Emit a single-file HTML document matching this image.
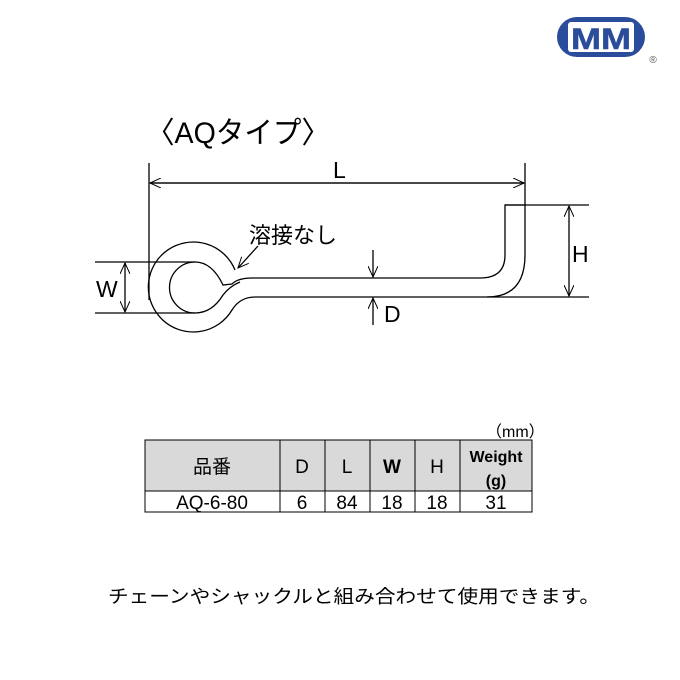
<!DOCTYPE html>
<html><head><meta charset="utf-8"><style>
body{margin:0;background:#fff;width:680px;height:680px;overflow:hidden;font-family:"Liberation Sans","Noto Sans CJK JP",sans-serif}
</style></head><body>
<svg width="680" height="680" viewBox="0 0 680 680" xmlns="http://www.w3.org/2000/svg" style="position:absolute;left:0;top:0">
<defs><marker id="a" markerWidth="12" markerHeight="10" refX="11" refY="5" orient="auto" markerUnits="userSpaceOnUse"><path d="M0,0 L11,5 L0,10" fill="none" stroke="#000" stroke-width="1"/></marker></defs>
<!-- logo -->
<rect x="557" y="17" width="88" height="40" rx="20" fill="#2b4c9b"/>
<rect x="568" y="22" width="66" height="30" rx="3" fill="#fff"/>
<text x="601" y="49" font-size="30" font-weight="bold" fill="#2b4c9b" text-anchor="middle" stroke="#2b4c9b" stroke-width="0.5" textLength="60" lengthAdjust="spacingAndGlyphs">MM</text>
<text x="653" y="63" font-size="10" fill="#555" text-anchor="middle">®</text>
<!-- title -->
<text x="146" y="143" font-size="30" textLength="184" lengthAdjust="spacingAndGlyphs">〈AQタイプ〉</text>
<g stroke="#000" stroke-width="1.3" fill="none">
<line x1="149" y1="163" x2="149" y2="300"/>
<line x1="525" y1="163" x2="525" y2="205"/>
<line x1="150" y1="183" x2="524" y2="183" marker-end="url(#a)"/>
<line x1="524" y1="183" x2="150" y2="183" marker-end="url(#a)"/>
<line x1="505" y1="205" x2="589" y2="205"/>
<line x1="487" y1="297" x2="589" y2="297"/>
<line x1="569" y1="250" x2="569" y2="206" marker-end="url(#a)"/>
<line x1="569" y1="250" x2="569" y2="296" marker-end="url(#a)"/>
<line x1="95" y1="262" x2="195" y2="262"/>
<line x1="95" y1="313" x2="195" y2="313"/>
<line x1="125" y1="288" x2="125" y2="263" marker-end="url(#a)"/>
<line x1="125" y1="288" x2="125" y2="312" marker-end="url(#a)"/>
<line x1="373" y1="250" x2="373" y2="277" marker-end="url(#a)"/>
<line x1="373" y1="325" x2="373" y2="298" marker-end="url(#a)"/>
<path d="M235,270 A45,45 0 1 0 232,310 Q240,297 255,297 L487,297 Q525,297 525,255 L525,205 L505,205 L505,255 Q505,278 480,278 L252,278 Q238,278 232,284 L223,285 Q212,262 195,262 A25.5,25.5 0 0 0 195,313 Q212,313 223,295 Q230,286 240,282"/>
<line x1="258" y1="246" x2="238" y2="268" marker-end="url(#a)"/>
</g>
<text x="249" y="243" font-size="22">溶接なし</text>
<text x="572" y="262" font-size="23">H</text>
<text x="96" y="297" font-size="23">W</text>
<text x="384" y="322" font-size="23">D</text>
<text x="333" y="178" font-size="23">L</text>
<!-- table -->
<text x="486" y="437" font-size="16">（mm）</text>
<rect x="145" y="440" width="387" height="51" fill="#d9d9d9"/>
<g stroke="#000" stroke-width="1" fill="none">
<rect x="145" y="440" width="387" height="72"/>
<line x1="145" y1="491" x2="532" y2="491"/>
<line x1="280" y1="440" x2="280" y2="512"/>
<line x1="325" y1="440" x2="325" y2="512"/>
<line x1="370" y1="440" x2="370" y2="512"/>
<line x1="415" y1="440" x2="415" y2="512"/>
<line x1="460" y1="440" x2="460" y2="512"/>
</g>
<g font-size="19" text-anchor="middle">
<text x="212" y="473">品番</text><text x="302" y="473">D</text><text x="347" y="473">L</text>
<text x="392" y="473" font-weight="bold">W</text><text x="437" y="473">H</text>
<text x="496" y="462" font-weight="bold" font-size="16">Weight</text><text x="496" y="486" font-size="16" font-weight="bold">(g)</text>
<text x="212" y="509">AQ-6-80</text><text x="302" y="509">6</text><text x="347" y="509">84</text>
<text x="392" y="509">18</text><text x="437" y="509">18</text><text x="496" y="509">31</text>
</g>
<text x="108" y="603" font-size="18.5" textLength="492" lengthAdjust="spacingAndGlyphs">チェーンやシャックルと組み合わせて使用できます。</text>
</svg>
</body></html>
